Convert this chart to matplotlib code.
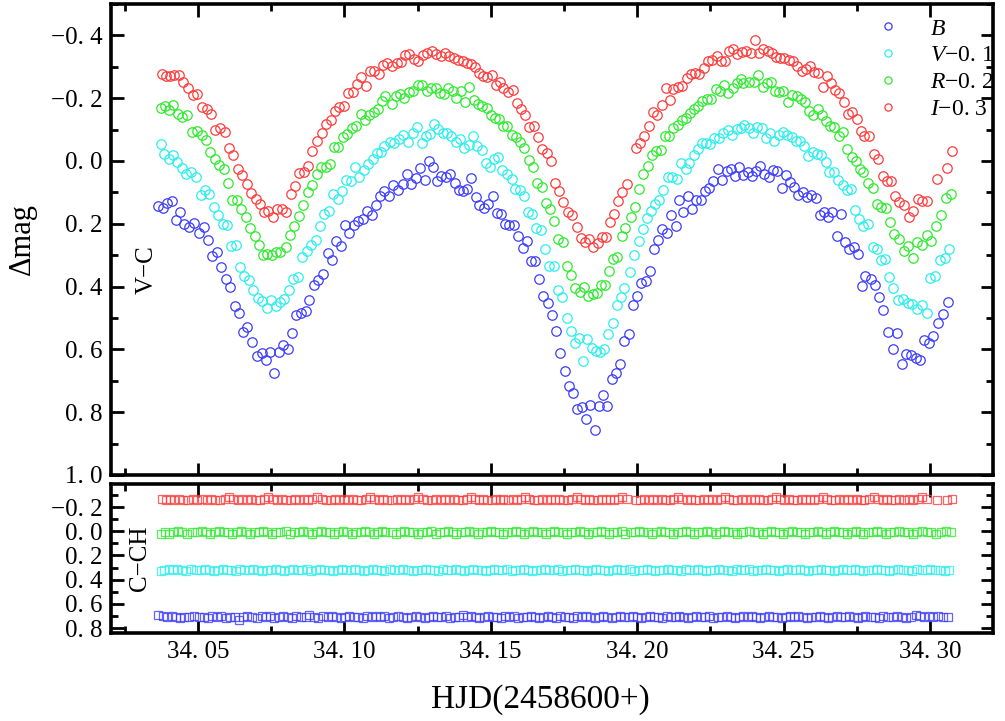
import matplotlib
matplotlib.use("Agg")
import matplotlib.pyplot as plt
from matplotlib.lines import Line2D
from matplotlib.ticker import MultipleLocator, FixedLocator, FuncFormatter

plt.rcParams['font.family'] = ['Liberation Serif', 'DejaVu Serif']
plt.rcParams['mathtext.fontset'] = 'custom'
plt.rcParams['mathtext.rm'] = 'Liberation Serif'
plt.rcParams['mathtext.it'] = 'Liberation Serif:italic'

# ---------------- light curves (variable minus comparison) ----------------
b_time = [34.0364, 34.0380, 34.0394, 34.0411, 34.0424, 34.0439, 34.0452, 34.0469, 34.0486, 34.0503,
          34.0520, 34.0534, 34.0548, 34.0565, 34.0579, 34.0596, 34.0609, 34.0626, 34.0640, 34.0654,
          34.0667, 34.0684, 34.0702, 34.0719, 34.0731, 34.0746, 34.0761, 34.0777, 34.0791, 34.0807,
          34.0821, 34.0835, 34.0851, 34.0868, 34.0880, 34.0896, 34.0911, 34.0926, 34.0943, 34.0957,
          34.0971, 34.0987, 34.1002, 34.1017, 34.1033, 34.1047, 34.1065, 34.1078, 34.1093, 34.1108,
          34.1122, 34.1135, 34.1153, 34.1167, 34.1184, 34.1199, 34.1213, 34.1227, 34.1245, 34.1259,
          34.1275, 34.1289, 34.1304, 34.1317, 34.1331, 34.1347, 34.1362, 34.1377, 34.1390, 34.1404,
          34.1420, 34.1433, 34.1448, 34.1461, 34.1477, 34.1491, 34.1507, 34.1520, 34.1535, 34.1549,
          34.1563, 34.1579, 34.1594, 34.1609, 34.1623, 34.1636, 34.1651, 34.1666, 34.1679, 34.1694,
          34.1709, 34.1723, 34.1737, 34.1752, 34.1767, 34.1782, 34.1795, 34.1810, 34.1825, 34.1839,
          34.1855, 34.1869, 34.1884, 34.1898, 34.1913, 34.1927, 34.1941, 34.1955, 34.1973, 34.1987,
          34.2000, 34.2013, 34.2029, 34.2044, 34.2057, 34.2072, 34.2086, 34.2101, 34.2115, 34.2131,
          34.2144, 34.2157, 34.2172, 34.2187, 34.2201, 34.2217, 34.2232, 34.2245, 34.2260, 34.2275,
          34.2291, 34.2306, 34.2320, 34.2334, 34.2348, 34.2362, 34.2379, 34.2393, 34.2406, 34.2419,
          34.2434, 34.2449, 34.2463, 34.2478, 34.2494, 34.2507, 34.2522, 34.2536, 34.2550, 34.2565,
          34.2579, 34.2593, 34.2610, 34.2624, 34.2638, 34.2653, 34.2666, 34.2681, 34.2695, 34.2710,
          34.2724, 34.2740, 34.2754, 34.2767, 34.2778, 34.2797, 34.2812, 34.2827, 34.2841, 34.2858,
          34.2873, 34.2888, 34.2903, 34.2918, 34.2935, 34.2951, 34.2966, 34.2981, 34.2998, 34.3011,
          34.3028, 34.3045, 34.3062]
b_mag = [0.142, 0.149, 0.133, 0.126, 0.187, 0.161, 0.200, 0.209, 0.197, 0.229,
         0.210, 0.253, 0.304, 0.289, 0.337, 0.375, 0.402, 0.463, 0.483, 0.546,
         0.530, 0.578, 0.622, 0.613, 0.634, 0.607, 0.676, 0.607, 0.586, 0.599,
         0.548, 0.492, 0.483, 0.478, 0.444, 0.396, 0.378, 0.360, 0.293, 0.316,
         0.255, 0.270, 0.205, 0.229, 0.204, 0.190, 0.184, 0.158, 0.171, 0.140,
         0.110, 0.095, 0.113, 0.078, 0.092, 0.074, 0.043, 0.072, 0.053, 0.023,
         0.060, 0.001, 0.020, 0.064, 0.047, 0.050, 0.042, 0.069, 0.092, 0.096,
         0.090, 0.054, 0.116, 0.141, 0.150, 0.137, 0.110, 0.165, 0.169, 0.200,
         0.203, 0.205, 0.240, 0.277, 0.254, 0.317, 0.320, 0.376, 0.430, 0.453,
         0.489, 0.542, 0.610, 0.669, 0.716, 0.738, 0.790, 0.785, 0.822, 0.778,
         0.857, 0.780, 0.746, 0.780, 0.695, 0.674, 0.645, 0.573, 0.552, 0.460,
         0.429, 0.390, 0.383, 0.351, 0.280, 0.251, 0.217, 0.230, 0.171, 0.208,
         0.124, 0.161, 0.110, 0.152, 0.124, 0.124, 0.097, 0.087, 0.063, 0.026,
         0.062, 0.031, 0.026, 0.048, 0.018, 0.044, 0.036, 0.047, 0.031, 0.015,
         0.041, 0.050, 0.029, 0.032, 0.087, 0.045, 0.068, 0.084, 0.108, 0.100,
         0.115, 0.107, 0.118, 0.171, 0.164, 0.179, 0.164, 0.238, 0.169, 0.259,
         0.279, 0.275, 0.295, 0.399, 0.367, 0.376, 0.394, 0.433, 0.473, 0.545,
         0.598, 0.549, 0.648, 0.614, 0.618, 0.626, 0.634, 0.571, 0.579, 0.557,
         0.517, 0.487, 0.449]

v_time = [34.0373, 34.0385, 34.0401, 34.0416, 34.0429, 34.0444, 34.0459, 34.0476, 34.0493, 34.0509,
          34.0524, 34.0539, 34.0555, 34.0569, 34.0584, 34.0598, 34.0612, 34.0629, 34.0643, 34.0658,
          34.0674, 34.0689, 34.0704, 34.0718, 34.0735, 34.0749, 34.0765, 34.0780, 34.0795, 34.0811,
          34.0823, 34.0841, 34.0856, 34.0871, 34.0886, 34.0902, 34.0917, 34.0931, 34.0947, 34.0960,
          34.0977, 34.0991, 34.1006, 34.1022, 34.1036, 34.1051, 34.1067, 34.1082, 34.1097, 34.1110,
          34.1124, 34.1136, 34.1156, 34.1170, 34.1187, 34.1201, 34.1218, 34.1233, 34.1249, 34.1264,
          34.1278, 34.1292, 34.1306, 34.1321, 34.1336, 34.1349, 34.1364, 34.1380, 34.1395, 34.1409,
          34.1426, 34.1440, 34.1454, 34.1469, 34.1483, 34.1497, 34.1512, 34.1526, 34.1539, 34.1556,
          34.1571, 34.1583, 34.1600, 34.1613, 34.1628, 34.1642, 34.1654, 34.1670, 34.1685, 34.1700,
          34.1715, 34.1729, 34.1743, 34.1759, 34.1773, 34.1788, 34.1802, 34.1816, 34.1830, 34.1845,
          34.1859, 34.1873, 34.1888, 34.1901, 34.1918, 34.1930, 34.1945, 34.1955, 34.1975, 34.1989,
          34.2006, 34.2019, 34.2032, 34.2047, 34.2061, 34.2076, 34.2089, 34.2104, 34.2120, 34.2135,
          34.2150, 34.2166, 34.2178, 34.2194, 34.2207, 34.2220, 34.2235, 34.2249, 34.2263, 34.2279,
          34.2294, 34.2309, 34.2325, 34.2340, 34.2353, 34.2365, 34.2383, 34.2397, 34.2410, 34.2425,
          34.2440, 34.2454, 34.2468, 34.2484, 34.2499, 34.2513, 34.2528, 34.2541, 34.2556, 34.2570,
          34.2584, 34.2599, 34.2613, 34.2628, 34.2644, 34.2656, 34.2672, 34.2687, 34.2702, 34.2716,
          34.2730, 34.2744, 34.2759, 34.2772, 34.2789, 34.2806, 34.2818, 34.2832, 34.2846, 34.2861,
          34.2875, 34.2890, 34.2907, 34.2924, 34.2940, 34.2957, 34.2972, 34.2989, 34.3000, 34.3017,
          34.3034, 34.3051, 34.3066]
v_mag = [-0.053, -0.022, -0.006, -0.019, 0.002, 0.023, 0.041, 0.036, 0.050, 0.108,
         0.092, 0.106, 0.147, 0.171, 0.200, 0.203, 0.270, 0.269, 0.337, 0.367,
         0.380, 0.412, 0.436, 0.447, 0.469, 0.444, 0.462, 0.450, 0.439, 0.410,
         0.376, 0.369, 0.307, 0.288, 0.269, 0.253, 0.208, 0.168, 0.159, 0.106,
         0.121, 0.095, 0.062, 0.064, 0.020, 0.052, 0.029, 0.010, -0.006, -0.024,
         -0.030, -0.048, -0.059, -0.056, -0.070, -0.083, -0.059, -0.088, -0.109, -0.058,
         -0.079, -0.085, -0.117, -0.102, -0.088, -0.090, -0.079, -0.061, -0.070, -0.040,
         -0.051, -0.079, -0.048, -0.035, 0.007, 0.018, -0.005, -0.012, 0.029, 0.041,
         0.057, 0.089, 0.092, 0.113, 0.161, 0.169, 0.212, 0.219, 0.280, 0.336,
         0.336, 0.410, 0.433, 0.500, 0.542, 0.579, 0.563, 0.637, 0.568, 0.595,
         0.605, 0.608, 0.600, 0.552, 0.515, 0.460, 0.433, 0.404, 0.353, 0.300,
         0.256, 0.217, 0.182, 0.158, 0.137, 0.124, 0.092, 0.050, 0.052, 0.058,
         0.007, 0.025, 0.005, -0.019, -0.038, -0.056, -0.058, -0.053, -0.072, -0.072,
         -0.088, -0.100, -0.083, -0.102, -0.106, -0.114, -0.104, -0.088, -0.107, -0.106,
         -0.074, -0.090, -0.063, -0.083, -0.091, -0.083, -0.075, -0.064, -0.064, -0.049,
         -0.017, -0.030, -0.021, -0.019, 0.004, 0.036, 0.036, 0.060, 0.078, 0.094,
         0.090, 0.156, 0.184, 0.208, 0.200, 0.275, 0.280, 0.316, 0.312, 0.370,
         0.406, 0.443, 0.441, 0.452, 0.457, 0.471, 0.459, 0.483, 0.373, 0.365,
         0.316, 0.309, 0.280]

r_time = [34.0373, 34.0387, 34.0402, 34.0416, 34.0431, 34.0446, 34.0464, 34.0479, 34.0496, 34.0513,
          34.0527, 34.0541, 34.0558, 34.0573, 34.0589, 34.0604, 34.0617, 34.0634, 34.0647, 34.0664,
          34.0678, 34.0695, 34.0708, 34.0721, 34.0737, 34.0752, 34.0766, 34.0782, 34.0800, 34.0814,
          34.0829, 34.0845, 34.0858, 34.0875, 34.0890, 34.0905, 34.0920, 34.0936, 34.0951, 34.0965,
          34.0979, 34.0994, 34.1010, 34.1025, 34.1040, 34.1056, 34.1070, 34.1085, 34.1101, 34.1116,
          34.1129, 34.1139, 34.1162, 34.1175, 34.1190, 34.1205, 34.1221, 34.1235, 34.1250, 34.1266,
          34.1281, 34.1296, 34.1312, 34.1326, 34.1341, 34.1355, 34.1370, 34.1383, 34.1398, 34.1413,
          34.1427, 34.1443, 34.1457, 34.1471, 34.1486, 34.1500, 34.1514, 34.1529, 34.1541, 34.1556,
          34.1571, 34.1585, 34.1600, 34.1614, 34.1631, 34.1645, 34.1659, 34.1674, 34.1689, 34.1702,
          34.1717, 34.1731, 34.1746, 34.1761, 34.1774, 34.1788, 34.1805, 34.1819, 34.1833, 34.1848,
          34.1862, 34.1875, 34.1890, 34.1905, 34.1918, 34.1932, 34.1949, 34.1960, 34.1979, 34.1993,
          34.2007, 34.2021, 34.2036, 34.2050, 34.2064, 34.2080, 34.2095, 34.2109, 34.2123, 34.2138,
          34.2152, 34.2167, 34.2180, 34.2194, 34.2209, 34.2222, 34.2237, 34.2252, 34.2268, 34.2283,
          34.2296, 34.2311, 34.2326, 34.2340, 34.2353, 34.2362, 34.2383, 34.2399, 34.2414, 34.2429,
          34.2442, 34.2457, 34.2471, 34.2484, 34.2499, 34.2516, 34.2530, 34.2545, 34.2559, 34.2573,
          34.2588, 34.2601, 34.2616, 34.2630, 34.2645, 34.2659, 34.2673, 34.2689, 34.2704, 34.2718,
          34.2733, 34.2747, 34.2761, 34.2772, 34.2789, 34.2804, 34.2818, 34.2833, 34.2849, 34.2863,
          34.2878, 34.2895, 34.2911, 34.2926, 34.2941, 34.2957, 34.2972, 34.2989, 34.3003, 34.3021,
          34.3037, 34.3054, 34.3071]
r_mag = [-0.169, -0.175, -0.162, -0.179, -0.149, -0.139, -0.148, -0.093, -0.096, -0.083,
         -0.067, -0.028, -0.006, 0.013, 0.025, 0.071, 0.124, 0.124, 0.153, 0.177,
         0.214, 0.240, 0.267, 0.298, 0.296, 0.298, 0.291, 0.290, 0.275, 0.235,
         0.208, 0.175, 0.140, 0.100, 0.078, 0.041, 0.020, 0.018, 0.010, -0.043,
         -0.043, -0.075, -0.085, -0.106, -0.112, -0.149, -0.130, -0.148, -0.157, -0.164,
         -0.190, -0.206, -0.183, -0.207, -0.213, -0.202, -0.220, -0.223, -0.243, -0.243,
         -0.222, -0.233, -0.233, -0.218, -0.212, -0.231, -0.223, -0.202, -0.222, -0.189,
         -0.236, -0.194, -0.181, -0.176, -0.170, -0.148, -0.137, -0.135, -0.111, -0.111,
         -0.083, -0.077, -0.061, -0.042, -0.003, 0.018, 0.071, 0.082, 0.134, 0.153,
         0.190, 0.249, 0.257, 0.336, 0.364, 0.406, 0.417, 0.402, 0.429, 0.423,
         0.420, 0.396, 0.394, 0.349, 0.312, 0.306, 0.240, 0.212, 0.180, 0.145,
         0.090, 0.042, 0.015, -0.019, -0.033, -0.035, -0.080, -0.079, -0.106, -0.114,
         -0.132, -0.137, -0.153, -0.167, -0.176, -0.190, -0.197, -0.197, -0.228, -0.222,
         -0.241, -0.218, -0.233, -0.249, -0.262, -0.247, -0.250, -0.252, -0.273, -0.236,
         -0.249, -0.252, -0.223, -0.220, -0.222, -0.189, -0.210, -0.206, -0.197, -0.189,
         -0.160, -0.148, -0.167, -0.146, -0.128, -0.111, -0.109, -0.080, -0.091, -0.038,
         -0.014, 0.000, 0.025, 0.034, 0.071, 0.085, 0.137, 0.145, 0.150, 0.195,
         0.233, 0.249, 0.288, 0.270, 0.309, 0.259, 0.269, 0.235, 0.256, 0.208,
         0.171, 0.118, 0.105]

i_time = [34.0376, 34.0390, 34.0404, 34.0419, 34.0435, 34.0450, 34.0467, 34.0482, 34.0498, 34.0514,
          34.0530, 34.0544, 34.0560, 34.0575, 34.0592, 34.0606, 34.0621, 34.0636, 34.0651, 34.0666,
          34.0681, 34.0697, 34.0712, 34.0725, 34.0740, 34.0755, 34.0771, 34.0786, 34.0801, 34.0817,
          34.0831, 34.0846, 34.0862, 34.0877, 34.0890, 34.0907, 34.0923, 34.0937, 34.0953, 34.0968,
          34.0983, 34.0999, 34.1013, 34.1028, 34.1042, 34.1057, 34.1073, 34.1088, 34.1102, 34.1118,
          34.1131, 34.1147, 34.1164, 34.1179, 34.1192, 34.1207, 34.1222, 34.1238, 34.1252, 34.1267,
          34.1283, 34.1298, 34.1313, 34.1329, 34.1344, 34.1358, 34.1374, 34.1389, 34.1404, 34.1418,
          34.1431, 34.1446, 34.1460, 34.1474, 34.1488, 34.1503, 34.1518, 34.1531, 34.1543, 34.1560,
          34.1575, 34.1591, 34.1602, 34.1617, 34.1632, 34.1648, 34.1662, 34.1676, 34.1691, 34.1706,
          34.1719, 34.1734, 34.1748, 34.1763, 34.1778, 34.1793, 34.1807, 34.1822, 34.1837, 34.1850,
          34.1865, 34.1879, 34.1893, 34.1907, 34.1922, 34.1936, 34.1949, 34.1966, 34.1995, 34.2010,
          34.2024, 34.2040, 34.2053, 34.2069, 34.2084, 34.2097, 34.2112, 34.2123, 34.2138, 34.2153,
          34.2169, 34.2183, 34.2197, 34.2212, 34.2228, 34.2243, 34.2257, 34.2272, 34.2285, 34.2300,
          34.2314, 34.2328, 34.2342, 34.2357, 34.2372, 34.2388, 34.2402, 34.2416, 34.2431, 34.2446,
          34.2459, 34.2473, 34.2488, 34.2502, 34.2518, 34.2533, 34.2547, 34.2562, 34.2577, 34.2590,
          34.2604, 34.2619, 34.2634, 34.2647, 34.2662, 34.2676, 34.2690, 34.2706, 34.2719, 34.2735,
          34.2750, 34.2764, 34.2775, 34.2793, 34.2809, 34.2823, 34.2838, 34.2852, 34.2866, 34.2880,
          34.2895, 34.2911, 34.2928, 34.2943, 34.2958, 34.2974, 34.2991, 34.3023, 34.3057, 34.3074]
i_mag = [-0.276, -0.270, -0.270, -0.273, -0.275, -0.252, -0.231, -0.210, -0.213, -0.172,
         -0.164, -0.149, -0.098, -0.104, -0.091, -0.040, -0.019, 0.025, 0.044, 0.073,
         0.103, 0.121, 0.137, 0.161, 0.159, 0.180, 0.152, 0.153, 0.164, 0.106,
         0.079, 0.037, 0.036, 0.016, -0.033, -0.064, -0.088, -0.117, -0.132, -0.160,
         -0.172, -0.176, -0.218, -0.220, -0.244, -0.266, -0.238, -0.287, -0.287, -0.276,
         -0.305, -0.312, -0.302, -0.313, -0.315, -0.339, -0.342, -0.324, -0.318, -0.339,
         -0.344, -0.349, -0.340, -0.334, -0.344, -0.333, -0.329, -0.323, -0.317, -0.312,
         -0.310, -0.300, -0.281, -0.270, -0.268, -0.273, -0.241, -0.252, -0.233, -0.220,
         -0.225, -0.186, -0.164, -0.148, -0.109, -0.111, -0.077, -0.037, -0.024, 0.000,
         0.069, 0.097, 0.131, 0.164, 0.171, 0.210, 0.245, 0.259, 0.249, 0.274,
         0.261, 0.242, 0.242, 0.193, 0.168, 0.129, 0.100, 0.073, -0.042, -0.056,
         -0.079, -0.111, -0.157, -0.146, -0.178, -0.231, -0.194, -0.228, -0.236, -0.238,
         -0.265, -0.278, -0.281, -0.278, -0.296, -0.317, -0.321, -0.333, -0.317, -0.319,
         -0.349, -0.357, -0.340, -0.347, -0.350, -0.345, -0.384, -0.344, -0.355, -0.350,
         -0.345, -0.331, -0.329, -0.329, -0.323, -0.319, -0.302, -0.287, -0.294, -0.303,
         -0.284, -0.281, -0.236, -0.270, -0.249, -0.225, -0.215, -0.187, -0.149, -0.157,
         -0.133, -0.096, -0.080, -0.080, -0.021, -0.005, 0.048, 0.063, 0.063, 0.113,
         0.131, 0.140, 0.179, 0.158, 0.121, 0.127, 0.129, 0.057, 0.021, -0.033]

# ---------------- comparison minus check star ----------------
b_cch = [0.69, 0.70, 0.71, 0.70, 0.71, 0.72, 0.71, 0.71, 0.70, 0.71,
         0.71, 0.72, 0.70, 0.71, 0.70, 0.72, 0.71, 0.71, 0.73, 0.71,
         0.70, 0.71, 0.72, 0.70, 0.71, 0.70, 0.72, 0.71, 0.70, 0.71,
         0.72, 0.70, 0.71, 0.71, 0.69, 0.71, 0.72, 0.70, 0.71, 0.70,
         0.71, 0.72, 0.71, 0.70, 0.71, 0.71, 0.72, 0.70, 0.71, 0.70,
         0.71, 0.70, 0.72, 0.71, 0.70, 0.71, 0.72, 0.71, 0.70, 0.71,
         0.72, 0.71, 0.70, 0.71, 0.71, 0.70, 0.72, 0.71, 0.71, 0.69,
         0.71, 0.70, 0.71, 0.72, 0.71, 0.70, 0.71, 0.71, 0.72, 0.70,
         0.71, 0.70, 0.72, 0.71, 0.71, 0.70, 0.71, 0.72, 0.71, 0.70,
         0.71, 0.72, 0.70, 0.71, 0.71, 0.72, 0.70, 0.71, 0.70, 0.71,
         0.72, 0.71, 0.70, 0.71, 0.72, 0.71, 0.70, 0.71, 0.71, 0.70,
         0.71, 0.72, 0.71, 0.70, 0.71, 0.71, 0.72, 0.70, 0.71, 0.71,
         0.70, 0.71, 0.72, 0.71, 0.70, 0.71, 0.71, 0.70, 0.72, 0.71,
         0.71, 0.70, 0.71, 0.72, 0.71, 0.70, 0.71, 0.70, 0.71, 0.72,
         0.71, 0.70, 0.71, 0.71, 0.72, 0.71, 0.70, 0.71, 0.70, 0.71,
         0.72, 0.71, 0.71, 0.70, 0.71, 0.72, 0.71, 0.70, 0.71, 0.71,
         0.70, 0.71, 0.72, 0.71, 0.70, 0.71, 0.71, 0.72, 0.70, 0.71,
         0.71, 0.70, 0.71, 0.72, 0.71, 0.69, 0.70, 0.71, 0.70, 0.71,
         0.70, 0.71, 0.71]
v_cch = [0.33, 0.32, 0.31, 0.32, 0.31, 0.32, 0.33, 0.31, 0.32, 0.32,
         0.31, 0.32, 0.33, 0.32, 0.31, 0.32, 0.32, 0.33, 0.31, 0.32,
         0.32, 0.31, 0.32, 0.33, 0.32, 0.32, 0.31, 0.32, 0.33, 0.32,
         0.31, 0.32, 0.32, 0.31, 0.33, 0.32, 0.31, 0.32, 0.32, 0.33,
         0.32, 0.31, 0.32, 0.32, 0.31, 0.32, 0.33, 0.32, 0.31, 0.32,
         0.32, 0.33, 0.31, 0.32, 0.32, 0.31, 0.32, 0.33, 0.32, 0.32,
         0.31, 0.32, 0.32, 0.33, 0.31, 0.32, 0.32, 0.31, 0.32, 0.33,
         0.32, 0.31, 0.32, 0.32, 0.33, 0.32, 0.31, 0.32, 0.32, 0.31,
         0.33, 0.32, 0.32, 0.31, 0.32, 0.33, 0.32, 0.32, 0.31, 0.32,
         0.32, 0.31, 0.33, 0.32, 0.32, 0.31, 0.32, 0.32, 0.33, 0.32,
         0.31, 0.32, 0.32, 0.33, 0.32, 0.31, 0.32, 0.32, 0.31, 0.33,
         0.32, 0.32, 0.31, 0.32, 0.33, 0.32, 0.32, 0.31, 0.32, 0.32,
         0.33, 0.31, 0.32, 0.32, 0.31, 0.32, 0.33, 0.32, 0.32, 0.31,
         0.32, 0.32, 0.33, 0.31, 0.32, 0.32, 0.31, 0.33, 0.32, 0.32,
         0.31, 0.32, 0.32, 0.33, 0.32, 0.31, 0.32, 0.32, 0.31, 0.32,
         0.33, 0.32, 0.32, 0.31, 0.32, 0.32, 0.33, 0.32, 0.31, 0.32,
         0.32, 0.31, 0.32, 0.33, 0.32, 0.32, 0.31, 0.32, 0.32, 0.33,
         0.32, 0.31, 0.32, 0.32, 0.33, 0.31, 0.32, 0.32, 0.31, 0.32,
         0.32, 0.33, 0.32]
r_cch = [0.02, 0.01, 0.02, 0.01, 0.00, 0.01, 0.02, 0.01, 0.01, 0.00,
         0.01, 0.02, 0.01, 0.00, 0.01, 0.01, 0.02, 0.01, 0.00, 0.01,
         0.02, 0.01, 0.01, 0.00, 0.01, 0.02, 0.01, 0.01, 0.00, 0.02,
         0.01, 0.01, 0.00, 0.01, 0.02, 0.01, 0.00, 0.01, 0.01, 0.02,
         0.01, 0.00, 0.01, 0.02, 0.01, 0.01, 0.00, 0.01, 0.02, 0.01,
         0.00, 0.01, 0.01, 0.02, 0.01, 0.00, 0.01, 0.01, 0.02, 0.01,
         0.01, 0.00, 0.02, 0.01, 0.01, 0.00, 0.01, 0.02, 0.01, 0.01,
         0.00, 0.01, 0.02, 0.01, 0.01, 0.00, 0.01, 0.01, 0.02, 0.01,
         0.01, 0.00, 0.01, 0.02, 0.01, 0.00, 0.01, 0.01, 0.02, 0.01,
         0.00, 0.01, 0.01, 0.02, 0.01, 0.01, 0.00, 0.01, 0.02, 0.01,
         0.01, 0.00, 0.01, 0.02, 0.01, 0.01, 0.00, 0.02, 0.01, 0.01,
         0.00, 0.01, 0.01, 0.02, 0.01, 0.00, 0.01, 0.01, 0.02, 0.01,
         0.01, 0.00, 0.01, 0.02, 0.01, 0.01, 0.00, 0.01, 0.02, 0.01,
         0.00, 0.01, 0.01, 0.02, 0.01, 0.01, 0.00, 0.01, 0.01, 0.02,
         0.01, 0.00, 0.01, 0.01, 0.02, 0.01, 0.00, 0.01, 0.01, 0.02,
         0.01, 0.01, 0.00, 0.01, 0.02, 0.01, 0.00, 0.01, 0.01, 0.02,
         0.01, 0.00, 0.01, 0.02, 0.01, 0.01, 0.00, 0.01, 0.02, 0.01,
         0.01, 0.00, 0.01, 0.01, 0.02, 0.01, 0.00, 0.01, 0.01, 0.02,
         0.01, 0.00, 0.01]
i_cch = [-0.27, -0.26, -0.27, -0.26, -0.27, -0.26, -0.26, -0.27, -0.26, -0.27,
         -0.26, -0.27, -0.26, -0.26, -0.27, -0.28, -0.27, -0.26, -0.27, -0.26,
         -0.27, -0.26, -0.26, -0.27, -0.28, -0.27, -0.26, -0.27, -0.26, -0.26,
         -0.27, -0.26, -0.27, -0.26, -0.27, -0.28, -0.27, -0.26, -0.26, -0.27,
         -0.26, -0.27, -0.26, -0.27, -0.26, -0.26, -0.27, -0.28, -0.27, -0.26,
         -0.27, -0.26, -0.26, -0.27, -0.26, -0.27, -0.26, -0.27, -0.28, -0.27,
         -0.26, -0.26, -0.27, -0.26, -0.27, -0.26, -0.27, -0.26, -0.26, -0.27,
         -0.28, -0.27, -0.26, -0.27, -0.26, -0.26, -0.27, -0.26, -0.27, -0.26,
         -0.27, -0.26, -0.27, -0.28, -0.27, -0.26, -0.26, -0.27, -0.26, -0.27,
         -0.26, -0.27, -0.26, -0.26, -0.27, -0.28, -0.27, -0.26, -0.27, -0.26,
         -0.26, -0.27, -0.26, -0.27, -0.26, -0.27, -0.28, -0.27, -0.26, -0.26,
         -0.27, -0.26, -0.27, -0.26, -0.27, -0.26, -0.26, -0.27, -0.28, -0.27,
         -0.26, -0.27, -0.26, -0.26, -0.27, -0.26, -0.27, -0.26, -0.27, -0.28,
         -0.27, -0.26, -0.26, -0.27, -0.26, -0.27, -0.26, -0.27, -0.26, -0.26,
         -0.27, -0.28, -0.27, -0.26, -0.27, -0.26, -0.26, -0.27, -0.26, -0.27,
         -0.26, -0.27, -0.28, -0.27, -0.26, -0.26, -0.27, -0.26, -0.27, -0.26,
         -0.27, -0.26, -0.26, -0.27, -0.28, -0.27, -0.26, -0.27, -0.26, -0.26,
         -0.27, -0.26, -0.27, -0.26, -0.27, -0.28, -0.27, -0.26, -0.26, -0.27]

band_labels = [r'$B$', r'$V$−0. 1', r'$R$−0. 2', r'$I$−0. 3']
band_colors = ['#3c3cff', '#2ceeee', '#2eea2e', '#ff3c3c']

top_yticks = [-0.4, -0.2, 0.0, 0.2, 0.4, 0.6, 0.8, 1.0]
bottom_yticks = [-0.2, 0.0, 0.2, 0.4, 0.6, 0.8]
x_ticks = [34.05, 34.10, 34.15, 34.20, 34.25, 34.30]

series_top = [(b_time, b_mag), (v_time, v_mag), (r_time, r_mag), (i_time, i_mag)]
series_bot = [(b_time, b_cch), (v_time, v_cch), (r_time, r_cch), (i_time, i_cch)]


def spaced(text):
    return text.replace('-', '\u2212').replace('.', '. ')


yfmt = FuncFormatter(lambda v, p: spaced(f"{round(v, 2) + 0.0:.1f}"))
xfmt = FuncFormatter(lambda v, p: spaced(f"{v:.2f}"))

fig = plt.figure(figsize=(10.05, 7.21), dpi=100)
ax1 = fig.add_axes([0.1104, 0.3412, 0.8776, 0.6533])
ax2 = fig.add_axes([0.1104, 0.1221, 0.8776, 0.2066])

for (t, m), c in zip(series_top, band_colors):
    ax1.plot(t, m, ls='none', marker='o', ms=6.8, mfc='none', mec=c, mew=0.9)
for (t, m), c in zip(series_bot, band_colors):
    ax2.plot(t, m, ls='none', marker='s', ms=6.4, mfc='none', mec=c, mew=0.9, alpha=0.8)

for ax in (ax1, ax2):
    ax.set_xlim(34.0203, 34.3215)
    ax.xaxis.set_major_locator(FixedLocator(x_ticks))
    ax.xaxis.set_minor_locator(MultipleLocator(0.025))
    ax.yaxis.set_minor_locator(MultipleLocator(0.1))
    ax.yaxis.set_major_formatter(yfmt)
    ax.tick_params(which='both', direction='in', top=True, right=True, width=2.0,
                   labelsize=18, pad=6)
    ax.tick_params(which='major', length=9)
    ax.tick_params(which='minor', length=5)
    for s in ax.spines.values():
        s.set_linewidth(2.6)

ax1.set_ylim(1.0, -0.5)
ax1.yaxis.set_major_locator(FixedLocator(top_yticks))
ax1.tick_params(labelbottom=False)

ax2.set_ylim(0.84, -0.39)
ax2.yaxis.set_major_locator(FixedLocator(bottom_yticks))
ax2.xaxis.set_major_formatter(xfmt)

ax1.text(0.041, 0.435, 'V−C', rotation=90, transform=ax1.transAxes,
         ha='center', va='center', fontsize=18)
ax2.text(0.033, 0.50, 'C−CH', rotation=90, transform=ax2.transAxes,
         ha='center', va='center', fontsize=18)

handles = [Line2D([], [], ls='none', marker='o', ms=5.2, mfc='none', mec=c, mew=0.9)
           for c in band_colors]
ax1.legend(handles, band_labels, loc='upper right', bbox_to_anchor=(1.012, 0.99),
           frameon=False, fontsize=17, handlelength=1.0, handletextpad=1.3,
           labelspacing=0.22, borderaxespad=0.0)

fig.text(22 / 1005, 1 - 239 / 721, 'Δmag', rotation=90, ha='center', va='center', fontsize=22)
fig.text(540 / 1005, 1 - 700 / 721, 'HJD(2458600+)', ha='center', va='center', fontsize=24)

fig.savefig('out.png', dpi=100)
